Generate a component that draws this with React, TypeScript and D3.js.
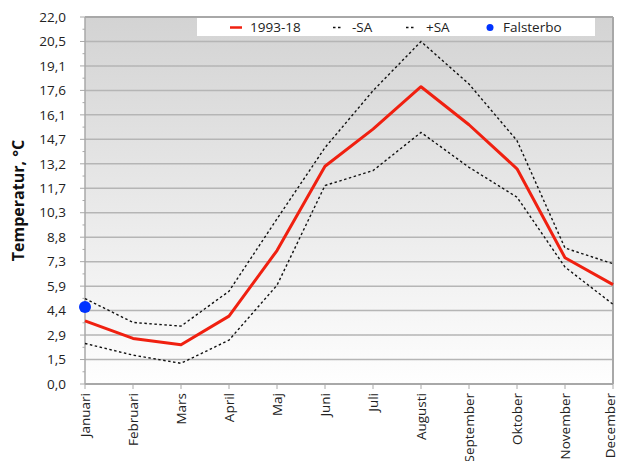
import React from "react";
import * as d3 from "d3";

const months = [
  "Januari", "Februari", "Mars", "April", "Maj", "Juni",
  "Juli", "Augusti", "September", "Oktober", "November", "December",
];
const mean = [3.78, 2.73, 2.35, 4.07, 8.0, 13.05, 15.28, 17.82, 15.54, 12.9, 7.57, 5.96];
const plusSA = [5.12, 3.69, 3.47, 5.56, 9.9, 14.17, 17.58, 20.53, 17.98, 14.59, 8.15, 7.21];
const minusSA = [2.43, 1.73, 1.24, 2.63, 5.92, 11.9, 12.79, 15.08, 12.99, 11.2, 7.01, 4.78];
const falsterbo = [{ month: "Januari", value: 4.62 }];
const yTicks = [0, 1.5, 2.9, 4.4, 5.9, 7.3, 8.8, 10.3, 11.7, 13.2, 14.7, 16.1, 17.6, 19.1, 20.5, 22.0];

const W = 619;
const H = 461;
const margin = { top: 17, right: 6, bottom: 77, left: 85 };
const font = "'Open Sans', sans-serif";
const fs = 13.5;

export default function App() {
  const x = d3
    .scalePoint<string>()
    .domain(months)
    .range([margin.left, W - margin.right]);
  const y = d3
    .scaleLinear()
    .domain([0, 22])
    .range([H - margin.bottom, margin.top]);

  const line = d3
    .line<number>()
    .x((_, i) => x(months[i])!)
    .y((d) => y(d));

  const majorVals = d3.range(16).map((i) => (22 / 15) * i);
  const minorVals = d3.range(15).map((i) => (22 / 15) * (i + 0.5));

  const x0 = margin.left;
  const x1 = W - margin.right;
  const y0 = H - margin.bottom;
  const y1 = margin.top;

  return (
    <svg width={W} height={H} style={{ position: "absolute", left: 0, top: 0 }} fontFamily={font}>
      <defs>
        <linearGradient id="bg" x1="0" y1="0" x2="0" y2="1">
          <stop offset="0" stopColor="#d3d3d3" />
          <stop offset="1" stopColor="#fefefe" />
        </linearGradient>
      </defs>
      <rect x={x0} y={y1} width={x1 - x0} height={y0 - y1} fill="url(#bg)" />

      {/* grid lines */}
      {majorVals.slice(1).map((v, i) => (
        <line key={"g" + i} x1={x0} x2={x1} y1={y(v)} y2={y(v)} stroke="#b5b5b5" strokeWidth={1.5} />
      ))}

      {/* frame */}
      <line x1={x0} x2={x1} y1={y1} y2={y1} stroke="#a8a8a8" strokeWidth={2} />
      <line x1={x1} x2={x1} y1={y1} y2={y0} stroke="#a8a8a8" strokeWidth={2} />
      <line x1={x0} x2={x0} y1={y1} y2={y0} stroke="#a8a8a8" strokeWidth={1.5} />
      <line x1={x0} x2={x1} y1={y0} y2={y0} stroke="#a8a8a8" strokeWidth={2} />

      {/* y ticks */}
      {majorVals.map((v, i) => (
        <line key={"mt" + i} x1={x0 - 5} x2={x0} y1={y(v)} y2={y(v)} stroke="#a8a8a8" strokeWidth={1} />
      ))}
      {minorVals.map((v, i) => (
        <line key={"nt" + i} x1={x0 - 2.5} x2={x0} y1={y(v)} y2={y(v)} stroke="#a8a8a8" strokeWidth={1} />
      ))}
      {majorVals.map((v, i) => (
        <text key={"yl" + i} x={66} y={y(v)} dy="0.35em" textAnchor="end" fontSize={fs} fill="#222">
          {yTicks[i].toFixed(1).replace(".", ",")}
        </text>
      ))}

      {/* x ticks */}
      {months.map((m) => (
        <g key={m}>
          <line x1={x(m)} x2={x(m)} y1={y0} y2={y0 + 5} stroke="#a8a8a8" strokeWidth={1} />
          <text
            transform={`translate(${Math.min(x(m)! + 5, W - 4)},${y0 + 9}) rotate(-90)`}
            textAnchor="end"
            fontSize={fs}
            fill="#222"
          >
            {m}
          </text>
        </g>
      ))}

      {/* series */}
      <path d={line(plusSA)!} fill="none" stroke="#111" strokeWidth={1.4} strokeDasharray="2.5,2.5" />
      <path d={line(minusSA)!} fill="none" stroke="#111" strokeWidth={1.4} strokeDasharray="2.5,2.5" />
      <path d={line(mean)!} fill="none" stroke="#f02010" strokeWidth={3} strokeLinejoin="round" />
      {falsterbo.map((d) => (
        <circle key={d.month} cx={x(d.month)} cy={y(d.value)} r={6} fill="#0033ff" />
      ))}

      {/* legend */}
      <rect x={197} y={18} width={398} height={18} fill="#fff" />
      <line x1={230} x2={242} y1={27.5} y2={27.5} stroke="#f02010" strokeWidth={2.5} />
      <text x={250} y={27.5} dy="0.35em" fontSize={fs} fill="#222">1993-18</text>
      <line x1={333} x2={342} y1={27.5} y2={27.5} stroke="#111" strokeWidth={1.4} strokeDasharray="2.5,2.5" />
      <text x={352} y={27.5} dy="0.35em" fontSize={fs} fill="#222">-SA</text>
      <line x1={406} x2={415} y1={27.5} y2={27.5} stroke="#111" strokeWidth={1.4} strokeDasharray="2.5,2.5" />
      <text x={426} y={27.5} dy="0.35em" fontSize={fs} fill="#222">+SA</text>
      <circle cx={490} cy={27.5} r={3.5} fill="#0033ff" />
      <text x={503} y={27.5} dy="0.35em" fontSize={fs} fill="#222">Falsterbo</text>

      {/* y axis title */}
      <text
        transform={`translate(24,${(y0 + y1) / 2}) rotate(-90)`}
        textAnchor="middle"
        fontSize={16}
        fontWeight="bold"
        fill="#111"
      >
        Temperatur, °C
      </text>
    </svg>
  );
}
